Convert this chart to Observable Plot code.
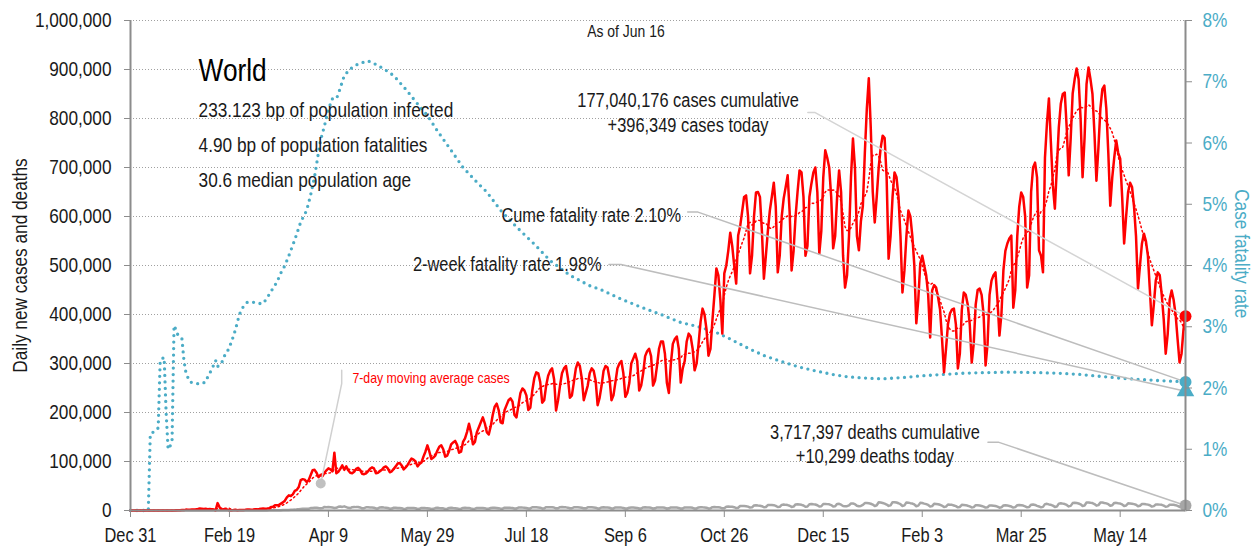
<!DOCTYPE html>
<html><head><meta charset="utf-8">
<script src="https://cdn.jsdelivr.net/npm/d3@7"></script>
<script src="https://cdn.jsdelivr.net/npm/@observablehq/plot@0.6"></script>
<style>
html,body{margin:0;padding:0;background:#fff;}
#chart svg{display:block;}
</style></head><body><div id="chart"></div>
<script>
// ---------- data ----------
const START = Date.UTC(2019, 11, 31);
const dayToDate = d => new Date(START + d * 864e5);

// daily new cases, thousands, one value per day from Dec 31 2019 (day 0) to Jun 16 2021 (day 533)
const casesK = [
0,0,0,0,0,0,0,
0,0,0,0.04,0,0,0,
0,0,0,0.02,0.1,0.14,0.08,
0.15,0.1,0.3,0.5,0.7,0.8,0.8,
1.8,1.5,1.7,2.0,2.1,2.6,3.2,
3.9,3.7,3.2,3.4,2.7,3.0,2.5,
2.0,0.4,15.1,6.5,2.1,2.6,2.0,
1.9,0.4,0.6,1.0,1.6,0.6,0.8,
0.9,1.2,1.4,1.9,1.9,1.7,1.9,
2.5,2.3,2.9,3.7,4.0,3.7,4.0,
4.6,7.2,7.5,10.5,10.9,11.5,14.0,
16.5,20.0,27.0,31.0,29.5,33.0,40.0,
42,48,62,64,63,58,62,
72,82,83,77,68,72,70,
77,82,86,84,80,118,76,
79,85,92,83,90,82,77,
76,79,85,87,83,75,74,
76,80,85,88,86,76,77,
80,83,88,90,86,78,80,
85,90,96,97,92,84,88,
93,100,106,104,100,90,95,
98,110,120,133,120,105,108,
112,122,130,133,125,110,112,
122,135,139,142,134,118,120,
140,147,160,177,160,135,140,
160,170,180,190,178,160,155,
172,195,212,218,205,180,178,
205,215,225,229,222,195,190,
215,240,249,245,235,205,210,
245,270,282,280,262,220,225,
255,275,285,290,268,204,225,
255,280,290,295,270,230,235,
262,290,302,295,270,225,240,
255,280,290,285,265,215,230,
255,285,295,292,270,225,235,
262,290,300,305,280,232,240,
260,300,310,320,305,245,255,
280,315,325,330,315,255,265,
295,330,345,345,320,260,240,
300,340,350,355,330,261,290,
305,345,361,355,330,286,300,
340,385,412,400,370,316,330,
388,440,494,480,430,361,484,
500,530,567,540,500,463,561,
580,610,640,643,600,484,520,
600,649,650,640,570,473,520,
570,612,640,669,620,486,520,
600,637,660,684,610,490,530,
600,650,694,690,640,520,540,
640,667,690,700,650,524,570,
680,735,720,700,640,535,560,
640,694,650,520,455,480,560,
680,759,700,560,531,590,622,
730,820,882,780,650,588,640,
700,740,765,760,680,514,560,
640,690,680,640,560,445,490,
560,612,600,560,500,382,430,
504,520,500,480,440,353,449,
460,455,435,410,350,282,330,
380,402,410,412,380,290,320,
410,445,440,420,380,302,340,
420,450,453,440,400,296,340,
440,469,480,486,430,357,400,
490,530,545,555,561,414,450,
560,620,649,640,600,455,480,
650,700,710,680,531,520,486,
720,790,841,750,663,616,700,
782,830,850,853,780,684,760,
851,880,902,880,800,680,760,
870,904,880,850,770,673,740,
820,860,867,820,730,622,680,
720,755,730,718,640,545,600,
650,669,660,620,560,453,500,
545,565,550,520,450,378,420,
470,486,480,440,390,320,360,
430,449,430,400,350,302,320,
370,396.349
];

// daily new deaths, thousands, same days
const deathsK = [
0,0,0,0,0,0,0,
0,0,0,0,0,0,0,
0,0,0,0,0,0,0,
0.01,0.01,0.01,0.02,0.02,0.02,0.02,
0.03,0.03,0.04,0.05,0.05,0.06,0.06,
0.07,0.07,0.07,0.08,0.09,0.1,0.1,
0.1,0.1,0.25,0.14,0.14,0.14,0.1,
0.1,0.14,0.12,0.1,0.1,0.1,0.1,
0.05,0.04,0.04,0.06,0.06,0.05,0.07,
0.08,0.08,0.1,0.1,0.1,0.2,0.2,
0.3,0.3,0.4,0.4,0.4,0.4,0.6,
0.8,0.9,1.0,1.2,1.6,1.7,1.8,
2.3,2.4,2.9,3.4,3.6,3.4,3.6,
4.9,5.1,5.5,5.8,5.1,4.6,5.0,
7.2,6.8,7.0,6.8,6.0,5.2,5.5,
7.5,8.3,7.3,8.5,7.0,5.5,5.0,
6.8,7.3,6.9,7.2,6.2,4.5,4.8,
6.5,6.6,6.2,6.3,5.7,4.2,4.3,
6.2,6.4,6.0,5.8,5.2,3.8,3.9,
5.6,5.6,5.2,5.3,4.7,3.2,3.6,
5.0,5.3,5.1,5.1,4.5,3.1,3.5,
5.3,5.2,4.9,4.7,4.3,3.2,3.4,
4.9,5.4,5.0,4.8,4.4,3.2,3.6,
5.1,5.5,5.0,4.8,4.3,3.1,3.6,
5.2,5.4,5.0,5.3,4.2,3.3,3.8,
5.1,5.3,5.2,5.2,4.8,3.4,3.6,
5.1,5.5,5.4,5.3,4.8,3.8,3.8,
5.8,5.7,5.6,5.4,5.3,3.9,4.2,
5.9,6.1,5.9,5.8,5.2,4.1,4.3,
6.7,6.6,6.6,6.3,5.8,4.2,4.5,
6.7,6.8,6.5,6.4,6.0,4.4,4.6,
6.8,7.0,6.7,6.4,5.8,4.5,4.6,
6.6,6.8,6.6,6.3,5.6,4.4,4.4,
6.5,6.6,6.4,6.1,5.6,4.2,4.3,
6.3,6.5,6.3,6.0,5.5,4.2,4.3,
6.3,6.3,6.1,5.9,5.2,4.0,4.1,
5.8,6.2,6.0,5.7,5.3,4.0,4.1,
6.2,6.5,6.2,6.0,5.4,4.0,4.4,
6.2,6.3,6.2,6.0,5.5,4.0,4.4,
6.2,6.3,6.0,5.9,5.3,3.9,4.3,
6.2,6.3,6.1,6.0,5.4,3.9,4.2,
6.3,6.7,6.4,6.2,5.6,4.2,4.5,
6.8,7.2,6.8,6.6,6.0,4.4,4.7,
7.8,8.1,7.9,7.6,6.7,4.9,5.6,
9.1,9.4,9.1,8.8,7.9,5.9,6.5,
10.1,10.5,10.1,9.8,8.8,6.6,7.1,
11.0,11.2,11.2,10.9,9.4,7.1,7.6,
11.5,12.2,11.5,11.0,9.8,7.3,8.0,
12.3,12.8,12.2,11.6,10.2,7.5,8.2,
12.8,13.2,12.6,12.3,10.7,8.0,8.6,
13.4,13.5,13.0,12.6,11.1,8.2,8.7,
13.4,13.7,11.8,9.3,8.7,8.9,10.5,
14.3,14.2,12.9,9.8,8.7,9.3,11.3,
15.2,15.1,14.6,13.8,12.0,9.0,10.7,
16.8,16.3,15.3,14.0,12.1,9.4,10.4,
17.0,17.0,16.3,14.8,12.8,9.3,10.4,
16.5,16.0,15.0,14.2,12.3,8.8,9.9,
15.6,15.3,14.1,13.0,11.3,8.1,8.9,
13.9,13.4,12.8,11.6,9.8,7.3,7.9,
12.3,11.9,11.6,10.3,9.0,6.5,7.3,
11.6,11.4,10.9,9.6,8.4,6.3,6.9,
10.8,10.8,10.3,9.3,8.0,5.9,6.6,
10.4,10.4,9.8,9.2,7.8,5.8,6.5,
10.2,10.7,10.1,9.3,8.1,6.0,6.9,
10.7,11.4,10.8,10.0,8.5,6.5,7.1,
11.9,12.1,11.3,9.4,8.2,6.4,7.4,
13.0,13.6,12.4,11.6,9.9,7.3,8.0,
14.0,14.7,14.0,13.2,11.4,8.4,9.4,
15.1,15.8,15.3,14.3,12.6,9.3,10.3,
16.2,16.5,15.7,15.1,13.2,9.9,11.0,
16.1,16.4,15.4,14.5,12.9,9.7,10.7,
15.5,15.6,14.7,14.1,12.4,9.3,10.2,
14.6,14.5,13.9,13.0,11.7,8.8,9.8,
13.2,13.4,12.6,12.0,10.6,8.0,8.9,
12.2,12.5,12.0,11.5,10.0,7.6,8.4,
11.8,11.7,11.6,10.9,9.4,7.3,8.0,
11.4,10.299
];

// case fatality rate (%), read at these days
const cfrDays = [0,9,10,11,12,13,14,15,16,17,18,19,20,21,22,23,24,25,26,27,28,29,30,32,34,36,38,39,41,43,44,45,46,47,49,51,53,55,57,59,62,65,67,69,72,74,
  76,78,80,83,86,89,91,93,95,96,98,100,102,104,105,108,111,115,120,123,128,133,139,145,150,155,162,168,175,
  180,187,195,204,212,222,232,238,248,258,268,278,287,295,303,312,320,329,337,346,355,363,372,380,390,400,410,420,430,445,460,470,480,490,500,510,520,533];
const cfrPct = [0,0,1.25,1.27,1.29,1.31,1.35,2.45,2.48,2.5,1.6,1.0,1.05,1.15,3.02,2.95,2.86,2.83,2.8,2.45,2.25,2.17,2.1,2.08,2.07,2.07,2.1,2.18,2.3,2.45,2.35,2.38,2.4,2.5,2.6,2.75,2.95,3.2,3.33,3.4,3.4,3.38,3.38,3.47,3.63,3.73,
  3.88,4.0,4.16,4.42,4.71,4.9,5.15,5.45,5.85,6.04,6.28,6.55,6.72,6.72,6.8,7.1,7.21,7.29,7.34,7.3,7.21,7.1,6.88,6.64,6.45,6.2,5.88,5.6,5.36,
  5.2,4.9,4.63,4.35,4.08,3.84,3.67,3.6,3.45,3.32,3.2,3.07,3.0,2.92,2.8,2.65,2.53,2.43,2.35,2.28,2.22,2.18,2.16,2.15,2.17,2.2,2.22,2.24,2.25,2.26,2.25,2.24,2.22,2.19,2.16,2.14,2.12,2.10];

const twoWeekRatePct = 1.98;
const xTickDays = [0,50,100,150,200,250,300,350,400,450,500];
const yTicksK = [0,100,200,300,400,500,600,700,800,900,1000];
const pctTicks = [0,1,2,3,4,5,6,7,8];

const place = "World";
const infoLines = ["233.123 bp of population infected", "4.90 bp of population fatalities", "30.6 median population age"];
const cumeCases = "177,040,176", todayCases = "+396,349";
const cumeDeaths = "3,717,397", todayDeaths = "+10,299";
const cumeRate = "2.10%", twoWeekRate = "1.98%";

// ---------- chart ----------
const PCT = 125;           // 1% on the right axis = 125 thousand on the left axis
const RED = "#ff0000", BLUE = "#4bacc6", GRAY = "#a6a6a6", AXIS = "#8c8c8c", INK = "#1a1a1a";
const FONT = '"Liberation Sans", Arial, sans-serif';
const SQUEEZE = 0.82;      // narrow rendering of the sans face

const rows = casesK.map((c, i) => ({date: dayToDate(i), cases: c, deaths: deathsK[i]}));
const cfrRows = cfrDays.map((d, i) => ({date: dayToDate(d), pct: cfrPct[i]}));
const lastDay = casesK.length - 1;
const last = rows[lastDay];
const lastCfr = cfrRows[cfrRows.length - 1];
const P = (d, v) => ({date: dayToDate(d), v});

const leader = (pts, stroke) => Plot.line(pts, {x: "date", y: "v", stroke, strokeWidth: 1.5});
const label = (txt, d, v, opts) => Plot.text([txt], {x: dayToDate(d), y: v, text: t => t, fill: INK, ...opts});

const chart = Plot.plot({
  width: 1253, height: 548,
  marginLeft: 130, marginRight: 68, marginTop: 20, marginBottom: 38,
  style: {fontFamily: FONT, fontSize: "20px", color: INK, background: "#fff"},
  x: {type: "utc", domain: [dayToDate(0), dayToDate(lastDay)]},
  y: {domain: [0, 1000]},
  marks: [
    Plot.gridY({ticks: yTicksK.slice(1), stroke: "#a0a0a0", strokeOpacity: 1, strokeDasharray: "1,2"}),
    // series
    Plot.lineY(rows, {x: "date", y: "deaths", stroke: GRAY, strokeWidth: 2.5}),
    Plot.lineY(cfrRows, {x: "date", y: d => d.pct * PCT, stroke: BLUE, strokeWidth: 3.3, strokeDasharray: "0,6.5", strokeLinecap: "round"}),
    Plot.lineY(rows, Plot.windowY({k: 7, anchor: "end", reduce: "mean"}, {x: "date", y: "cases", stroke: RED, strokeWidth: 1.5, strokeDasharray: "1.5,3"})),
    Plot.lineY(rows, {x: "date", y: "cases", stroke: RED, strokeWidth: 2.5}),
    // leaders
    leader([P(342.2, 812), P(345.9, 812), {date: last.date, v: last.cases}], "#d4d4d4"),
    leader([P(281.5, 609), P(286.7, 609), {date: lastCfr.date, v: lastCfr.pct * PCT}], "#bdbdbd"),
    leader([P(241.7, 502), P(247.8, 502), {date: last.date, v: twoWeekRatePct * PCT - 4}], "#bdbdbd"),
    leader([P(433.2, 139.5), P(438.4, 139.5), {date: last.date, v: last.deaths}], "#bdbdbd"),
    leader([P(106.7, 286), P(106.7, 259), P(96.1, 55)], "#d0d0d0"),
    Plot.dot([P(96.1, 55)], {x: "date", y: "v", r: 5, fill: "#c0c0c0"}),
    // end markers
    Plot.dot([last], {x: "date", y: "deaths", r: 6, fill: GRAY}),
    Plot.dot([last], {x: "date", y: () => twoWeekRatePct * PCT, symbol: "triangle", r: 6.5, fill: BLUE, dy: 2}),
    Plot.dot([lastCfr], {x: "date", y: d => d.pct * PCT, r: 6, fill: BLUE}),
    Plot.dot([last], {x: "date", y: "cases", r: 6, fill: RED}),
    // frame lines
    Plot.ruleX([dayToDate(0), dayToDate(lastDay)], {stroke: AXIS, strokeWidth: 2}),
    Plot.ruleY([0], {stroke: AXIS, strokeWidth: 2}),
    // axes
    Plot.axisY({ticks: yTicksK, anchor: "left", tickSize: 6, tickPadding: 13, stroke: AXIS, color: INK,
      tickFormat: d => d3.format(",")(d * 1000), label: null, fontSize: 21}),
    Plot.axisY({ticks: pctTicks.map(p => p * PCT), anchor: "right", tickSize: 6, tickPadding: 11, stroke: AXIS, color: BLUE,
      tickFormat: d => Math.round(d / PCT) + "%", label: null, fontSize: 21}),
    Plot.axisX({ticks: xTickDays.map(dayToDate), tickFormat: d3.utcFormat("%b %-d"), tickSize: 7, tickPadding: 10,
      stroke: AXIS, color: INK, label: null, fontSize: 20}),
    Plot.text(["Daily new cases and deaths"], {frameAnchor: "left", y: 500, rotate: -90, dx: -110, textAnchor: "middle", text: t => t, fill: INK, fontSize: 21}),
    Plot.text(["Case fatality rate"], {frameAnchor: "right", y: 524, rotate: 90, dx: 56, textAnchor: "middle", text: t => t, fill: BLUE, fontSize: 21}),
    // text
    label(place, 34.4, 898, {textAnchor: "start", fontSize: 32, fill: "#000"}),
    label(infoLines[0], 34.4, 817, {textAnchor: "start", fontSize: 21}),
    label(infoLines[1], 34.4, 745.5, {textAnchor: "start", fontSize: 21}),
    label(infoLines[2], 34.4, 674.5, {textAnchor: "start", fontSize: 21}),
    label("As of " + d3.utcFormat("%b %-d")(last.date), 250.3, 978, {textAnchor: "middle", fontSize: 17}),
    label(`${cumeCases} cases cumulative`, 281.7, 836.5, {textAnchor: "middle", fontSize: 20}),
    label(`${todayCases} cases today`, 281.7, 786, {textAnchor: "middle", fontSize: 20}),
    label(`Cume fatality rate ${cumeRate}`, 278.1, 601.4, {textAnchor: "end", fontSize: 20}),
    label(`2-week fatality rate ${twoWeekRate}`, 238.0, 502.7, {textAnchor: "end", fontSize: 20}),
    label(`${cumeDeaths} deaths cumulative`, 376.1, 159.8, {textAnchor: "middle", fontSize: 20}),
    label(`${todayDeaths} deaths today`, 376.1, 110.2, {textAnchor: "middle", fontSize: 20}),
    label("7-day moving average cases", 112.1, 269.4, {textAnchor: "start", fontSize: 15, fill: RED})
  ]
});
document.getElementById("chart").appendChild(chart);

// render the sans face narrow (as a condensed grotesque), keeping every label as real text
function squeeze(el) {
  const len = el.getComputedTextLength();
  if (len > 0) {
    el.setAttribute("textLength", (len * SQUEEZE).toFixed(2));
    el.setAttribute("lengthAdjust", "spacingAndGlyphs");
  }
}
for (const t of chart.querySelectorAll("text")) {
  const spans = t.querySelectorAll("tspan");
  if (spans.length) spans.forEach(squeeze); else squeeze(t);
}
</script>
</body></html>
